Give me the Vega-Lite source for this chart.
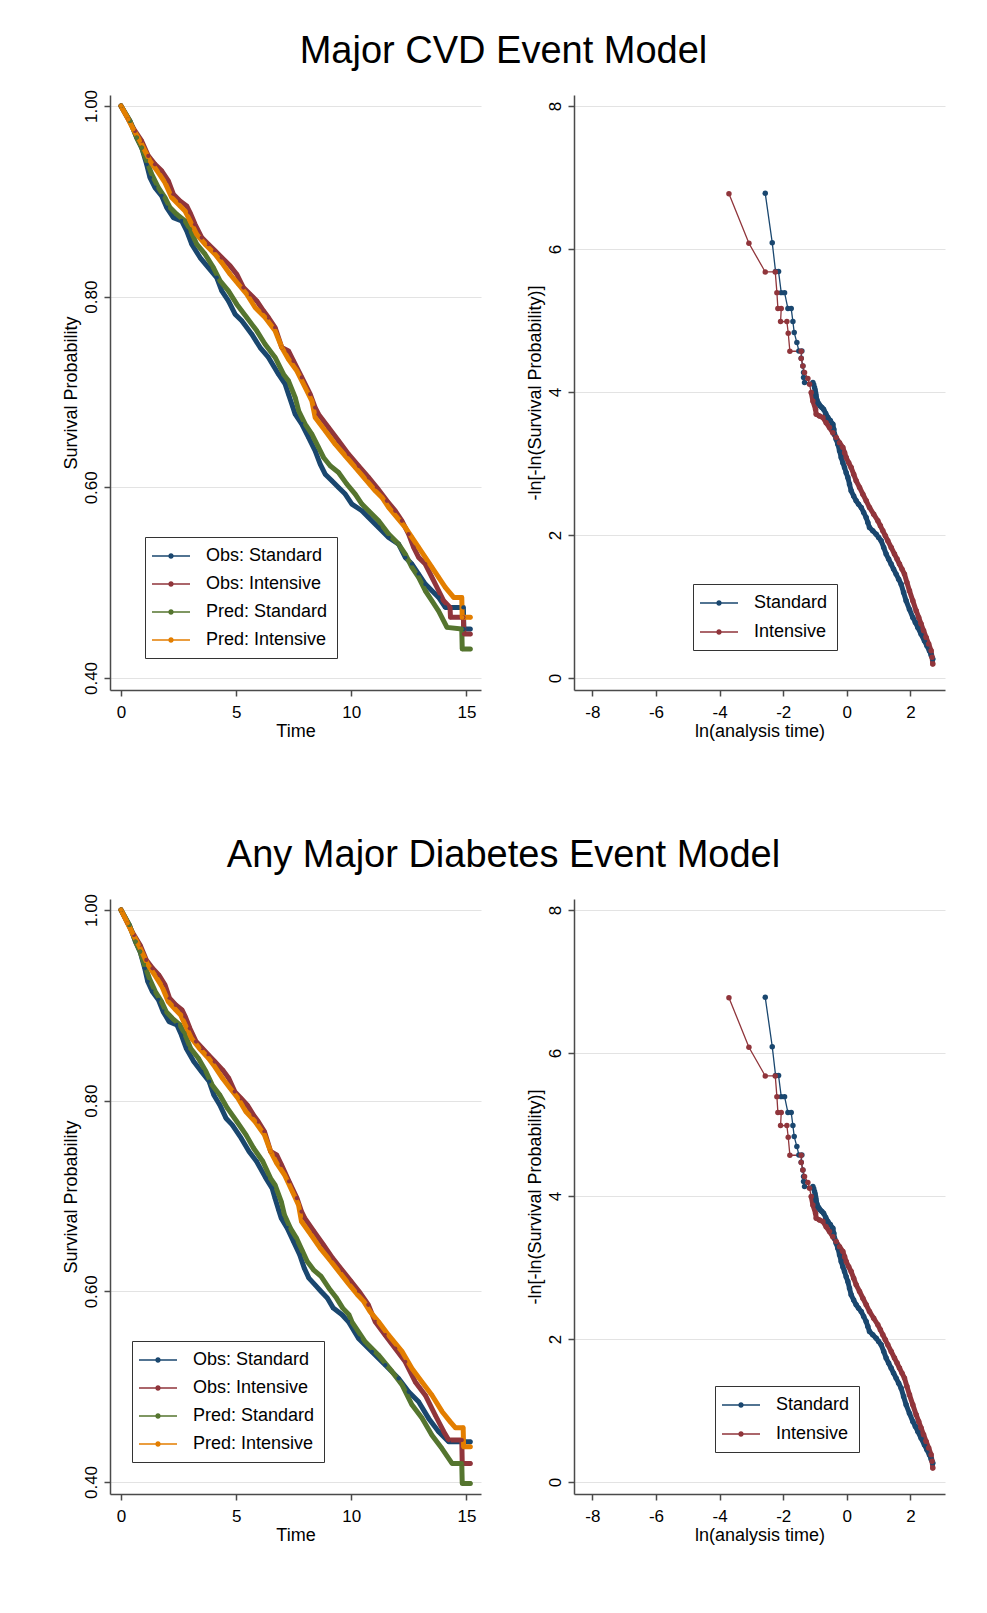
{
  "$schema": "https://vega.github.io/schema/vega-lite/v6.json",
  "background": "white",
  "padding": {"left": 62, "top": 33, "right": 5, "bottom": 5},
  "config": {
    "font": "Liberation Sans",
    "view": {"stroke": null},
    "axis": {
      "domainColor": "#4a4a4a", "domainWidth": 1.5, "tickColor": "#4a4a4a", "tickWidth": 1.5, "tickSize": 6,
      "labelColor": "black", "labelFontSize": 17, "labelFont": "Liberation Sans", "labelFlush": false,
      "titleColor": "black", "titleFontSize": 18, "titleFontWeight": "normal", "titleFont": "Liberation Sans",
      "gridColor": "#e3e3e3", "gridWidth": 1.2, "labelPadding": 8, "titlePadding": 2
    },
    "legend": {
      "labelFontSize": 18, "labelColor": "black", "labelFont": "Liberation Sans",
      "strokeColor": "#333333", "fillColor": "white", "padding": 9,
      "symbolSize": 400, "symbolStrokeWidth": 0, "symbolOpacity": 1,
      "symbolType": "M-1.9,-0.07L1.9,-0.07L1.9,0.07L-1.9,0.07Z M0.27,0A0.27,0.27 0 1,1 -0.27,0A0.27,0.27 0 1,1 0.27,0Z",
      "symbolOffset": 7, "labelOffset": 25, "rowPadding": 9
    },
    "title": {"fontSize": 38, "fontWeight": "normal", "color": "black", "font": "Liberation Sans", "anchor": "middle"}
  },
  "datasets": {
    "km_cvd": [
      {"series":"Obs: Standard","t":0,"s":1.0},{"series":"Obs: Standard","t":0.39,"s":0.9843},{"series":"Obs: Standard","t":0.68,"s":0.9668},{"series":"Obs: Standard","t":0.897,"s":0.9563},{"series":"Obs: Standard","t":1.114,"s":0.9388},{"series":"Obs: Standard","t":1.259,"s":0.9249},{"series":"Obs: Standard","t":1.477,"s":0.9144},{"series":"Obs: Standard","t":1.767,"s":0.9056},{"series":"Obs: Standard","t":1.984,"s":0.8934},{"series":"Obs: Standard","t":2.274,"s":0.8829},{"series":"Obs: Standard","t":2.636,"s":0.8794},{"series":"Obs: Standard","t":2.853,"s":0.869},{"series":"Obs: Standard","t":3.071,"s":0.855},{"series":"Obs: Standard","t":3.433,"s":0.841},{"series":"Obs: Standard","t":3.795,"s":0.8305},{"series":"Obs: Standard","t":4.158,"s":0.82},{"series":"Obs: Standard","t":4.375,"s":0.806},{"series":"Obs: Standard","t":4.665,"s":0.7955},{"series":"Obs: Standard","t":4.955,"s":0.7816},{"series":"Obs: Standard","t":5.245,"s":0.7746},{"series":"Obs: Standard","t":5.679,"s":0.7606},{"series":"Obs: Standard","t":6.042,"s":0.7466},{"series":"Obs: Standard","t":6.404,"s":0.7362},{"series":"Obs: Standard","t":6.839,"s":0.7187},{"series":"Obs: Standard","t":7.129,"s":0.7082},{"series":"Obs: Standard","t":7.274,"s":0.6977},{"series":"Obs: Standard","t":7.45,"s":0.685},{"series":"Obs: Standard","t":7.564,"s":0.6767},{"series":"Obs: Standard","t":7.853,"s":0.6662},{"series":"Obs: Standard","t":8.143,"s":0.6523},{"series":"Obs: Standard","t":8.433,"s":0.6383},{"series":"Obs: Standard","t":8.651,"s":0.6243},{"series":"Obs: Standard","t":8.868,"s":0.6138},{"series":"Obs: Standard","t":9.158,"s":0.6068},{"series":"Obs: Standard","t":9.448,"s":0.5998},{"series":"Obs: Standard","t":9.738,"s":0.5929},{"series":"Obs: Standard","t":10.027,"s":0.5824},{"series":"Obs: Standard","t":10.462,"s":0.5754},{"series":"Obs: Standard","t":10.752,"s":0.5684},{"series":"Obs: Standard","t":11.187,"s":0.5579},{"series":"Obs: Standard","t":11.622,"s":0.5474},{"series":"Obs: Standard","t":12.056,"s":0.5404},{"series":"Obs: Standard","t":12.346,"s":0.5265},{"series":"Obs: Standard","t":12.636,"s":0.5195},{"series":"Obs: Standard","t":12.926,"s":0.509},{"series":"Obs: Standard","t":13.216,"s":0.4985},{"series":"Obs: Standard","t":13.506,"s":0.4915},{"series":"Obs: Standard","t":13.796,"s":0.4845},{"series":"Obs: Standard","t":14.085,"s":0.474},{"series":"Obs: Standard","t":14.87,"s":0.474},{"series":"Obs: Standard","t":14.89,"s":0.4513},{"series":"Obs: Standard","t":15.17,"s":0.4513},
      {"series":"Obs: Intensive","t":0,"s":1.0},{"series":"Obs: Intensive","t":0.317,"s":0.986},{"series":"Obs: Intensive","t":0.607,"s":0.9738},{"series":"Obs: Intensive","t":0.897,"s":0.9633},{"series":"Obs: Intensive","t":1.187,"s":0.9476},{"series":"Obs: Intensive","t":1.477,"s":0.9388},{"series":"Obs: Intensive","t":1.767,"s":0.9319},{"series":"Obs: Intensive","t":2.056,"s":0.9214},{"series":"Obs: Intensive","t":2.274,"s":0.9074},{"series":"Obs: Intensive","t":2.564,"s":0.9004},{"series":"Obs: Intensive","t":2.853,"s":0.8951},{"series":"Obs: Intensive","t":2.998,"s":0.8882},{"series":"Obs: Intensive","t":3.216,"s":0.8759},{"series":"Obs: Intensive","t":3.506,"s":0.862},{"series":"Obs: Intensive","t":3.795,"s":0.855},{"series":"Obs: Intensive","t":4.085,"s":0.848},{"series":"Obs: Intensive","t":4.375,"s":0.841},{"series":"Obs: Intensive","t":4.738,"s":0.8323},{"series":"Obs: Intensive","t":5.027,"s":0.8235},{"series":"Obs: Intensive","t":5.317,"s":0.8095},{"series":"Obs: Intensive","t":5.607,"s":0.8025},{"series":"Obs: Intensive","t":5.897,"s":0.7955},{"series":"Obs: Intensive","t":6.187,"s":0.7851},{"series":"Obs: Intensive","t":6.404,"s":0.7781},{"series":"Obs: Intensive","t":6.694,"s":0.7676},{"series":"Obs: Intensive","t":6.984,"s":0.7466},{"series":"Obs: Intensive","t":7.274,"s":0.7431},{"series":"Obs: Intensive","t":7.491,"s":0.7326},{"series":"Obs: Intensive","t":7.853,"s":0.7152},{"series":"Obs: Intensive","t":8.216,"s":0.6977},{"series":"Obs: Intensive","t":8.433,"s":0.6837},{"series":"Obs: Intensive","t":8.578,"s":0.6767},{"series":"Obs: Intensive","t":9.013,"s":0.6628},{"series":"Obs: Intensive","t":9.448,"s":0.6488},{"series":"Obs: Intensive","t":9.882,"s":0.6348},{"series":"Obs: Intensive","t":10.317,"s":0.6226},{"series":"Obs: Intensive","t":10.752,"s":0.6103},{"series":"Obs: Intensive","t":11.114,"s":0.5998},{"series":"Obs: Intensive","t":11.549,"s":0.5859},{"series":"Obs: Intensive","t":11.911,"s":0.5754},{"series":"Obs: Intensive","t":12.201,"s":0.5649},{"series":"Obs: Intensive","t":12.491,"s":0.5509},{"series":"Obs: Intensive","t":12.709,"s":0.5369},{"series":"Obs: Intensive","t":12.926,"s":0.5265},{"series":"Obs: Intensive","t":13.216,"s":0.5195},{"series":"Obs: Intensive","t":13.506,"s":0.5055},{"series":"Obs: Intensive","t":13.796,"s":0.4915},{"series":"Obs: Intensive","t":14.013,"s":0.481},{"series":"Obs: Intensive","t":14.29,"s":0.474},{"series":"Obs: Intensive","t":14.31,"s":0.4636},{"series":"Obs: Intensive","t":14.87,"s":0.4636},{"series":"Obs: Intensive","t":14.89,"s":0.4461},{"series":"Obs: Intensive","t":15.17,"s":0.4461},
      {"series":"Pred: Standard","t":0,"s":1.0},{"series":"Pred: Standard","t":0.39,"s":0.9843},{"series":"Pred: Standard","t":0.68,"s":0.9668},{"series":"Pred: Standard","t":0.897,"s":0.9563},{"series":"Pred: Standard","t":1.114,"s":0.9423},{"series":"Pred: Standard","t":1.332,"s":0.9284},{"series":"Pred: Standard","t":1.622,"s":0.9144},{"series":"Pred: Standard","t":1.911,"s":0.9039},{"series":"Pred: Standard","t":2.129,"s":0.8934},{"series":"Pred: Standard","t":2.419,"s":0.8864},{"series":"Pred: Standard","t":2.781,"s":0.8794},{"series":"Pred: Standard","t":2.998,"s":0.8707},{"series":"Pred: Standard","t":3.288,"s":0.855},{"series":"Pred: Standard","t":3.651,"s":0.8445},{"series":"Pred: Standard","t":4.013,"s":0.8305},{"series":"Pred: Standard","t":4.303,"s":0.8165},{"series":"Pred: Standard","t":4.665,"s":0.806},{"series":"Pred: Standard","t":5.027,"s":0.7921},{"series":"Pred: Standard","t":5.462,"s":0.7781},{"series":"Pred: Standard","t":5.897,"s":0.7641},{"series":"Pred: Standard","t":6.259,"s":0.7501},{"series":"Pred: Standard","t":6.694,"s":0.7362},{"series":"Pred: Standard","t":7.056,"s":0.7187},{"series":"Pred: Standard","t":7.274,"s":0.7117},{"series":"Pred: Standard","t":7.564,"s":0.6942},{"series":"Pred: Standard","t":7.72,"s":0.68},{"series":"Pred: Standard","t":7.998,"s":0.6662},{"series":"Pred: Standard","t":8.288,"s":0.6558},{"series":"Pred: Standard","t":8.578,"s":0.6418},{"series":"Pred: Standard","t":8.796,"s":0.6313},{"series":"Pred: Standard","t":9.085,"s":0.6226},{"series":"Pred: Standard","t":9.448,"s":0.6156},{"series":"Pred: Standard","t":9.81,"s":0.6033},{"series":"Pred: Standard","t":10.172,"s":0.5929},{"series":"Pred: Standard","t":10.462,"s":0.5824},{"series":"Pred: Standard","t":10.752,"s":0.5754},{"series":"Pred: Standard","t":11.187,"s":0.5649},{"series":"Pred: Standard","t":11.622,"s":0.5509},{"series":"Pred: Standard","t":12.056,"s":0.5404},{"series":"Pred: Standard","t":12.346,"s":0.53},{"series":"Pred: Standard","t":12.636,"s":0.516},{"series":"Pred: Standard","t":12.926,"s":0.5055},{"series":"Pred: Standard","t":13.216,"s":0.4915},{"series":"Pred: Standard","t":13.506,"s":0.481},{"series":"Pred: Standard","t":13.796,"s":0.4702},{"series":"Pred: Standard","t":14.158,"s":0.4531},{"series":"Pred: Standard","t":14.8,"s":0.4513},{"series":"Pred: Standard","t":14.82,"s":0.4304},{"series":"Pred: Standard","t":15.17,"s":0.4304},
      {"series":"Pred: Intensive","t":0,"s":1.0},{"series":"Pred: Intensive","t":0.317,"s":0.986},{"series":"Pred: Intensive","t":0.535,"s":0.9755},{"series":"Pred: Intensive","t":0.825,"s":0.9633},{"series":"Pred: Intensive","t":1.042,"s":0.9528},{"series":"Pred: Intensive","t":1.259,"s":0.9423},{"series":"Pred: Intensive","t":1.622,"s":0.9301},{"series":"Pred: Intensive","t":1.911,"s":0.9196},{"series":"Pred: Intensive","t":2.201,"s":0.9039},{"series":"Pred: Intensive","t":2.564,"s":0.8951},{"series":"Pred: Intensive","t":2.781,"s":0.8899},{"series":"Pred: Intensive","t":2.998,"s":0.8794},{"series":"Pred: Intensive","t":3.288,"s":0.8654},{"series":"Pred: Intensive","t":3.651,"s":0.855},{"series":"Pred: Intensive","t":4.085,"s":0.8445},{"series":"Pred: Intensive","t":4.375,"s":0.8357},{"series":"Pred: Intensive","t":4.738,"s":0.8235},{"series":"Pred: Intensive","t":5.1,"s":0.813},{"series":"Pred: Intensive","t":5.462,"s":0.8025},{"series":"Pred: Intensive","t":5.825,"s":0.7886},{"series":"Pred: Intensive","t":6.259,"s":0.7781},{"series":"Pred: Intensive","t":6.694,"s":0.7641},{"series":"Pred: Intensive","t":6.984,"s":0.7466},{"series":"Pred: Intensive","t":7.274,"s":0.7344},{"series":"Pred: Intensive","t":7.636,"s":0.7222},{"series":"Pred: Intensive","t":7.998,"s":0.7047},{"series":"Pred: Intensive","t":8.288,"s":0.6907},{"series":"Pred: Intensive","t":8.433,"s":0.6732},{"series":"Pred: Intensive","t":8.868,"s":0.6593},{"series":"Pred: Intensive","t":9.303,"s":0.6453},{"series":"Pred: Intensive","t":9.738,"s":0.6331},{"series":"Pred: Intensive","t":10.172,"s":0.6208},{"series":"Pred: Intensive","t":10.607,"s":0.6086},{"series":"Pred: Intensive","t":11.042,"s":0.5964},{"series":"Pred: Intensive","t":11.332,"s":0.5894},{"series":"Pred: Intensive","t":11.622,"s":0.5789},{"series":"Pred: Intensive","t":11.984,"s":0.5684},{"series":"Pred: Intensive","t":12.346,"s":0.5579},{"series":"Pred: Intensive","t":12.636,"s":0.5474},{"series":"Pred: Intensive","t":12.926,"s":0.5369},{"series":"Pred: Intensive","t":13.216,"s":0.5265},{"series":"Pred: Intensive","t":13.506,"s":0.516},{"series":"Pred: Intensive","t":13.796,"s":0.5055},{"series":"Pred: Intensive","t":14.085,"s":0.495},{"series":"Pred: Intensive","t":14.448,"s":0.4845},{"series":"Pred: Intensive","t":14.8,"s":0.4845},{"series":"Pred: Intensive","t":14.82,"s":0.4636},{"series":"Pred: Intensive","t":15.17,"s":0.4636}
    ],
    "km_dm": [
      {"series":"Obs: Standard","t":0,"s":1.0},{"series":"Obs: Standard","t":0.36,"s":0.9843},{"series":"Obs: Standard","t":0.63,"s":0.9668},{"series":"Obs: Standard","t":0.83,"s":0.9563},{"series":"Obs: Standard","t":1.03,"s":0.9388},{"series":"Obs: Standard","t":1.16,"s":0.9249},{"series":"Obs: Standard","t":1.36,"s":0.9144},{"series":"Obs: Standard","t":1.63,"s":0.9056},{"series":"Obs: Standard","t":1.83,"s":0.8934},{"series":"Obs: Standard","t":2.09,"s":0.8829},{"series":"Obs: Standard","t":2.43,"s":0.8794},{"series":"Obs: Standard","t":2.62,"s":0.869},{"series":"Obs: Standard","t":2.83,"s":0.855},{"series":"Obs: Standard","t":3.16,"s":0.841},{"series":"Obs: Standard","t":3.49,"s":0.8305},{"series":"Obs: Standard","t":3.83,"s":0.82},{"series":"Obs: Standard","t":4.03,"s":0.806},{"series":"Obs: Standard","t":4.29,"s":0.7955},{"series":"Obs: Standard","t":4.56,"s":0.7816},{"series":"Obs: Standard","t":4.83,"s":0.7746},{"series":"Obs: Standard","t":5.22,"s":0.7606},{"series":"Obs: Standard","t":5.56,"s":0.7466},{"series":"Obs: Standard","t":5.89,"s":0.7362},{"series":"Obs: Standard","t":6.29,"s":0.7187},{"series":"Obs: Standard","t":6.56,"s":0.7082},{"series":"Obs: Standard","t":6.69,"s":0.6977},{"series":"Obs: Standard","t":6.85,"s":0.685},{"series":"Obs: Standard","t":6.96,"s":0.6767},{"series":"Obs: Standard","t":7.22,"s":0.6662},{"series":"Obs: Standard","t":7.49,"s":0.6523},{"series":"Obs: Standard","t":7.76,"s":0.6383},{"series":"Obs: Standard","t":7.96,"s":0.6243},{"series":"Obs: Standard","t":8.16,"s":0.6138},{"series":"Obs: Standard","t":8.43,"s":0.6068},{"series":"Obs: Standard","t":8.69,"s":0.5998},{"series":"Obs: Standard","t":8.96,"s":0.5929},{"series":"Obs: Standard","t":9.22,"s":0.5824},{"series":"Obs: Standard","t":9.6,"s":0.5754},{"series":"Obs: Standard","t":9.88,"s":0.568},{"series":"Obs: Standard","t":10.318,"s":0.5506},{"series":"Obs: Standard","t":10.897,"s":0.5366},{"series":"Obs: Standard","t":11.477,"s":0.5226},{"series":"Obs: Standard","t":12.057,"s":0.5086},{"series":"Obs: Standard","t":12.492,"s":0.4946},{"series":"Obs: Standard","t":12.926,"s":0.4842},{"series":"Obs: Standard","t":13.361,"s":0.4667},{"series":"Obs: Standard","t":13.796,"s":0.4527},{"series":"Obs: Standard","t":14.231,"s":0.4422},{"series":"Obs: Standard","t":15.17,"s":0.4422},
      {"series":"Obs: Intensive","t":0,"s":1.0},{"series":"Obs: Intensive","t":0.29,"s":0.986},{"series":"Obs: Intensive","t":0.56,"s":0.9738},{"series":"Obs: Intensive","t":0.83,"s":0.9633},{"series":"Obs: Intensive","t":1.1,"s":0.9476},{"series":"Obs: Intensive","t":1.37,"s":0.9388},{"series":"Obs: Intensive","t":1.64,"s":0.9319},{"series":"Obs: Intensive","t":1.91,"s":0.9214},{"series":"Obs: Intensive","t":2.11,"s":0.9074},{"series":"Obs: Intensive","t":2.38,"s":0.9004},{"series":"Obs: Intensive","t":2.65,"s":0.8951},{"series":"Obs: Intensive","t":2.79,"s":0.8882},{"series":"Obs: Intensive","t":2.99,"s":0.8759},{"series":"Obs: Intensive","t":3.26,"s":0.862},{"series":"Obs: Intensive","t":3.53,"s":0.855},{"series":"Obs: Intensive","t":3.8,"s":0.848},{"series":"Obs: Intensive","t":4.07,"s":0.841},{"series":"Obs: Intensive","t":4.41,"s":0.8323},{"series":"Obs: Intensive","t":4.68,"s":0.8235},{"series":"Obs: Intensive","t":4.94,"s":0.8095},{"series":"Obs: Intensive","t":5.21,"s":0.8025},{"series":"Obs: Intensive","t":5.48,"s":0.7955},{"series":"Obs: Intensive","t":5.75,"s":0.7851},{"series":"Obs: Intensive","t":5.96,"s":0.7781},{"series":"Obs: Intensive","t":6.23,"s":0.7676},{"series":"Obs: Intensive","t":6.5,"s":0.7466},{"series":"Obs: Intensive","t":6.76,"s":0.7431},{"series":"Obs: Intensive","t":6.97,"s":0.7326},{"series":"Obs: Intensive","t":7.3,"s":0.7152},{"series":"Obs: Intensive","t":7.64,"s":0.6977},{"series":"Obs: Intensive","t":7.84,"s":0.6837},{"series":"Obs: Intensive","t":7.98,"s":0.6767},{"series":"Obs: Intensive","t":8.38,"s":0.6628},{"series":"Obs: Intensive","t":8.79,"s":0.6488},{"series":"Obs: Intensive","t":9.19,"s":0.6348},{"series":"Obs: Intensive","t":9.59,"s":0.6226},{"series":"Obs: Intensive","t":10.0,"s":0.6103},{"series":"Obs: Intensive","t":10.34,"s":0.5998},{"series":"Obs: Intensive","t":10.74,"s":0.5859},{"series":"Obs: Intensive","t":11.042,"s":0.568},{"series":"Obs: Intensive","t":11.477,"s":0.554},{"series":"Obs: Intensive","t":11.912,"s":0.54},{"series":"Obs: Intensive","t":12.346,"s":0.526},{"series":"Obs: Intensive","t":12.781,"s":0.505},{"series":"Obs: Intensive","t":13.216,"s":0.491},{"series":"Obs: Intensive","t":13.651,"s":0.47},{"series":"Obs: Intensive","t":14.013,"s":0.453},{"series":"Obs: Intensive","t":14.231,"s":0.444},{"series":"Obs: Intensive","t":14.8,"s":0.444},{"series":"Obs: Intensive","t":14.82,"s":0.4195},{"series":"Obs: Intensive","t":15.17,"s":0.4195},
      {"series":"Pred: Standard","t":0,"s":1.0},{"series":"Pred: Standard","t":0.36,"s":0.9843},{"series":"Pred: Standard","t":0.63,"s":0.9668},{"series":"Pred: Standard","t":0.83,"s":0.9563},{"series":"Pred: Standard","t":1.02,"s":0.9423},{"series":"Pred: Standard","t":1.23,"s":0.9284},{"series":"Pred: Standard","t":1.49,"s":0.9144},{"series":"Pred: Standard","t":1.76,"s":0.9039},{"series":"Pred: Standard","t":1.96,"s":0.8934},{"series":"Pred: Standard","t":2.23,"s":0.8864},{"series":"Pred: Standard","t":2.56,"s":0.8794},{"series":"Pred: Standard","t":2.76,"s":0.8707},{"series":"Pred: Standard","t":3.02,"s":0.855},{"series":"Pred: Standard","t":3.36,"s":0.8445},{"series":"Pred: Standard","t":3.69,"s":0.8305},{"series":"Pred: Standard","t":3.96,"s":0.8165},{"series":"Pred: Standard","t":4.29,"s":0.806},{"series":"Pred: Standard","t":4.62,"s":0.7921},{"series":"Pred: Standard","t":5.03,"s":0.7781},{"series":"Pred: Standard","t":5.43,"s":0.7641},{"series":"Pred: Standard","t":5.76,"s":0.7501},{"series":"Pred: Standard","t":6.16,"s":0.7362},{"series":"Pred: Standard","t":6.49,"s":0.7187},{"series":"Pred: Standard","t":6.69,"s":0.7117},{"series":"Pred: Standard","t":6.96,"s":0.6942},{"series":"Pred: Standard","t":7.1,"s":0.68},{"series":"Pred: Standard","t":7.36,"s":0.6662},{"series":"Pred: Standard","t":7.62,"s":0.6558},{"series":"Pred: Standard","t":7.89,"s":0.6418},{"series":"Pred: Standard","t":8.09,"s":0.6313},{"series":"Pred: Standard","t":8.36,"s":0.6226},{"series":"Pred: Standard","t":8.69,"s":0.6156},{"series":"Pred: Standard","t":9.03,"s":0.6033},{"series":"Pred: Standard","t":9.36,"s":0.5929},{"series":"Pred: Standard","t":9.63,"s":0.5824},{"series":"Pred: Standard","t":9.9,"s":0.5754},{"series":"Pred: Standard","t":10.028,"s":0.568},{"series":"Pred: Standard","t":10.607,"s":0.547},{"series":"Pred: Standard","t":11.187,"s":0.533},{"series":"Pred: Standard","t":11.767,"s":0.516},{"series":"Pred: Standard","t":12.201,"s":0.502},{"series":"Pred: Standard","t":12.636,"s":0.481},{"series":"Pred: Standard","t":13.071,"s":0.467},{"series":"Pred: Standard","t":13.506,"s":0.449},{"series":"Pred: Standard","t":13.941,"s":0.435},{"series":"Pred: Standard","t":14.376,"s":0.4195},{"series":"Pred: Standard","t":14.8,"s":0.4195},{"series":"Pred: Standard","t":14.82,"s":0.3985},{"series":"Pred: Standard","t":15.17,"s":0.3985},
      {"series":"Pred: Intensive","t":0,"s":1.0},{"series":"Pred: Intensive","t":0.29,"s":0.986},{"series":"Pred: Intensive","t":0.5,"s":0.9755},{"series":"Pred: Intensive","t":0.77,"s":0.9633},{"series":"Pred: Intensive","t":0.97,"s":0.9528},{"series":"Pred: Intensive","t":1.17,"s":0.9423},{"series":"Pred: Intensive","t":1.51,"s":0.9301},{"series":"Pred: Intensive","t":1.78,"s":0.9196},{"series":"Pred: Intensive","t":2.05,"s":0.9039},{"series":"Pred: Intensive","t":2.38,"s":0.8951},{"series":"Pred: Intensive","t":2.59,"s":0.8899},{"series":"Pred: Intensive","t":2.79,"s":0.8794},{"series":"Pred: Intensive","t":3.06,"s":0.8654},{"series":"Pred: Intensive","t":3.4,"s":0.855},{"series":"Pred: Intensive","t":3.8,"s":0.8445},{"series":"Pred: Intensive","t":4.07,"s":0.8357},{"series":"Pred: Intensive","t":4.41,"s":0.8235},{"series":"Pred: Intensive","t":4.74,"s":0.813},{"series":"Pred: Intensive","t":5.08,"s":0.8025},{"series":"Pred: Intensive","t":5.42,"s":0.7886},{"series":"Pred: Intensive","t":5.82,"s":0.7781},{"series":"Pred: Intensive","t":6.23,"s":0.7641},{"series":"Pred: Intensive","t":6.5,"s":0.7466},{"series":"Pred: Intensive","t":6.76,"s":0.7344},{"series":"Pred: Intensive","t":7.1,"s":0.7222},{"series":"Pred: Intensive","t":7.44,"s":0.7047},{"series":"Pred: Intensive","t":7.71,"s":0.6907},{"series":"Pred: Intensive","t":7.84,"s":0.6732},{"series":"Pred: Intensive","t":8.25,"s":0.6593},{"series":"Pred: Intensive","t":8.65,"s":0.6453},{"series":"Pred: Intensive","t":9.06,"s":0.6331},{"series":"Pred: Intensive","t":9.46,"s":0.6208},{"series":"Pred: Intensive","t":9.86,"s":0.6086},{"series":"Pred: Intensive","t":10.27,"s":0.5964},{"series":"Pred: Intensive","t":10.54,"s":0.5894},{"series":"Pred: Intensive","t":10.81,"s":0.5789},{"series":"Pred: Intensive","t":11.187,"s":0.568},{"series":"Pred: Intensive","t":11.622,"s":0.554},{"series":"Pred: Intensive","t":12.201,"s":0.537},{"series":"Pred: Intensive","t":12.636,"s":0.519},{"series":"Pred: Intensive","t":13.071,"s":0.505},{"series":"Pred: Intensive","t":13.506,"s":0.491},{"series":"Pred: Intensive","t":13.941,"s":0.474},{"series":"Pred: Intensive","t":14.303,"s":0.463},{"series":"Pred: Intensive","t":14.52,"s":0.4569},{"series":"Pred: Intensive","t":14.86,"s":0.4569},{"series":"Pred: Intensive","t":14.88,"s":0.437},{"series":"Pred: Intensive","t":15.17,"s":0.437}
    ],
    "ll_cvd": [
      {"group":"Standard","lnt":-2.565,"lls":6.779},{"group":"Standard","lnt":-2.345,"lls":6.089},{"group":"Standard","lnt":-2.24,"lls":5.684},{"group":"Standard","lnt":-2.146,"lls":5.684},{"group":"Standard","lnt":-2.062,"lls":5.39},{"group":"Standard","lnt":-1.957,"lls":5.39},{"group":"Standard","lnt":-1.852,"lls":5.167},{"group":"Standard","lnt":-1.748,"lls":5.167},{"group":"Standard","lnt":-1.695,"lls":4.985},{"group":"Standard","lnt":-1.654,"lls":4.831},{"group":"Standard","lnt":-1.57,"lls":4.691},{"group":"Standard","lnt":-1.507,"lls":4.575},{"group":"Standard","lnt":-1.413,"lls":4.575},{"group":"Standard","lnt":-1.434,"lls":4.472},{"group":"Standard","lnt":-1.381,"lls":4.365},{"group":"Standard","lnt":-1.36,"lls":4.272},{"group":"Standard","lnt":-1.36,"lls":4.202},{"group":"Standard","lnt":-1.329,"lls":4.132},{"group":"Standard","lnt":-1.067,"lls":4.132},{"group":"Standard","lnt":-1.04,"lls":4.1},{"group":"Standard","lnt":-1.015,"lls":4.062},{"group":"Standard","lnt":-0.995,"lls":4.03},{"group":"Standard","lnt":-0.983,"lls":3.992},{"group":"Standard","lnt":-0.972,"lls":3.96},{"group":"Standard","lnt":-0.962,"lls":3.923},{"group":"Standard","lnt":-0.94,"lls":3.89},{"group":"Standard","lnt":-0.91,"lls":3.853},{"group":"Standard","lnt":-0.875,"lls":3.83},{"group":"Standard","lnt":-0.837,"lls":3.806},{"group":"Standard","lnt":-0.785,"lls":3.785},{"group":"Standard","lnt":-0.732,"lls":3.76},{"group":"Standard","lnt":-0.665,"lls":3.7},{"group":"Standard","lnt":-0.596,"lls":3.643},{"group":"Standard","lnt":-0.52,"lls":3.6},{"group":"Standard","lnt":-0.439,"lls":3.55},{"group":"Standard","lnt":-0.41,"lls":3.48},{"group":"Standard","lnt":-0.386,"lls":3.41},{"group":"Standard","lnt":-0.335,"lls":3.34},{"group":"Standard","lnt":-0.282,"lls":3.27},{"group":"Standard","lnt":-0.23,"lls":3.18},{"group":"Standard","lnt":-0.177,"lls":3.084},{"group":"Standard","lnt":-0.125,"lls":3.01},{"group":"Standard","lnt":-0.072,"lls":2.944},{"group":"Standard","lnt":-0.02,"lls":2.87},{"group":"Standard","lnt":0.032,"lls":2.804},{"group":"Standard","lnt":0.085,"lls":2.71},{"group":"Standard","lnt":0.137,"lls":2.618},{"group":"Standard","lnt":0.215,"lls":2.545},{"group":"Standard","lnt":0.294,"lls":2.478},{"group":"Standard","lnt":0.37,"lls":2.43},{"group":"Standard","lnt":0.452,"lls":2.385},{"group":"Standard","lnt":0.53,"lls":2.315},{"group":"Standard","lnt":0.608,"lls":2.245},{"group":"Standard","lnt":0.66,"lls":2.175},{"group":"Standard","lnt":0.713,"lls":2.105},{"group":"Standard","lnt":0.815,"lls":2.06},{"group":"Standard","lnt":0.923,"lls":2.012},{"group":"Standard","lnt":1.0,"lls":1.965},{"group":"Standard","lnt":1.08,"lls":1.919},{"group":"Standard","lnt":1.16,"lls":1.826},{"group":"Standard","lnt":1.237,"lls":1.733},{"group":"Standard","lnt":1.315,"lls":1.663},{"group":"Standard","lnt":1.394,"lls":1.593},{"group":"Standard","lnt":1.47,"lls":1.523},{"group":"Standard","lnt":1.551,"lls":1.453},{"group":"Standard","lnt":1.63,"lls":1.383},{"group":"Standard","lnt":1.708,"lls":1.313},{"group":"Standard","lnt":1.785,"lls":1.195},{"group":"Standard","lnt":1.865,"lls":1.08},{"group":"Standard","lnt":1.97,"lls":0.96},{"group":"Standard","lnt":2.075,"lls":0.847},{"group":"Standard","lnt":2.155,"lls":0.778},{"group":"Standard","lnt":2.232,"lls":0.708},{"group":"Standard","lnt":2.335,"lls":0.615},{"group":"Standard","lnt":2.441,"lls":0.521},{"group":"Standard","lnt":2.52,"lls":0.451},{"group":"Standard","lnt":2.598,"lls":0.381},{"group":"Standard","lnt":2.65,"lls":0.323},{"group":"Standard","lnt":2.703,"lls":0.265},
      {"group":"Intensive","lnt":-3.706,"lls":6.774},{"group":"Intensive","lnt":-3.078,"lls":6.08},{"group":"Intensive","lnt":-2.565,"lls":5.679},{"group":"Intensive","lnt":-2.25,"lls":5.679},{"group":"Intensive","lnt":-2.198,"lls":5.39},{"group":"Intensive","lnt":-2.167,"lls":5.167},{"group":"Intensive","lnt":-2.062,"lls":5.167},{"group":"Intensive","lnt":-2.083,"lls":4.985},{"group":"Intensive","lnt":-1.884,"lls":4.985},{"group":"Intensive","lnt":-1.842,"lls":4.822},{"group":"Intensive","lnt":-1.79,"lls":4.57},{"group":"Intensive","lnt":-1.434,"lls":4.57},{"group":"Intensive","lnt":-1.434,"lls":4.468},{"group":"Intensive","lnt":-1.381,"lls":4.365},{"group":"Intensive","lnt":-1.329,"lls":4.272},{"group":"Intensive","lnt":-1.224,"lls":4.188},{"group":"Intensive","lnt":-1.172,"lls":4.109},{"group":"Intensive","lnt":-1.119,"lls":3.992},{"group":"Intensive","lnt":-1.067,"lls":3.876},{"group":"Intensive","lnt":-0.983,"lls":3.76},{"group":"Intensive","lnt":-0.962,"lls":3.69},{"group":"Intensive","lnt":-0.86,"lls":3.665},{"group":"Intensive","lnt":-0.753,"lls":3.643},{"group":"Intensive","lnt":-0.65,"lls":3.57},{"group":"Intensive","lnt":-0.544,"lls":3.503},{"group":"Intensive","lnt":-0.44,"lls":3.43},{"group":"Intensive","lnt":-0.334,"lls":3.363},{"group":"Intensive","lnt":-0.23,"lls":3.29},{"group":"Intensive","lnt":-0.125,"lls":3.224},{"group":"Intensive","lnt":-0.07,"lls":3.15},{"group":"Intensive","lnt":-0.02,"lls":3.084},{"group":"Intensive","lnt":0.06,"lls":3.01},{"group":"Intensive","lnt":0.137,"lls":2.944},{"group":"Intensive","lnt":0.215,"lls":2.85},{"group":"Intensive","lnt":0.294,"lls":2.758},{"group":"Intensive","lnt":0.4,"lls":2.665},{"group":"Intensive","lnt":0.504,"lls":2.571},{"group":"Intensive","lnt":0.61,"lls":2.478},{"group":"Intensive","lnt":0.713,"lls":2.385},{"group":"Intensive","lnt":0.845,"lls":2.29},{"group":"Intensive","lnt":0.975,"lls":2.199},{"group":"Intensive","lnt":1.055,"lls":2.13},{"group":"Intensive","lnt":1.132,"lls":2.059},{"group":"Intensive","lnt":1.21,"lls":1.99},{"group":"Intensive","lnt":1.289,"lls":1.919},{"group":"Intensive","lnt":1.395,"lls":1.826},{"group":"Intensive","lnt":1.499,"lls":1.733},{"group":"Intensive","lnt":1.58,"lls":1.663},{"group":"Intensive","lnt":1.656,"lls":1.593},{"group":"Intensive","lnt":1.735,"lls":1.523},{"group":"Intensive","lnt":1.813,"lls":1.453},{"group":"Intensive","lnt":1.89,"lls":1.335},{"group":"Intensive","lnt":1.97,"lls":1.22},{"group":"Intensive","lnt":2.075,"lls":1.08},{"group":"Intensive","lnt":2.18,"lls":0.941},{"group":"Intensive","lnt":2.26,"lls":0.848},{"group":"Intensive","lnt":2.337,"lls":0.754},{"group":"Intensive","lnt":2.415,"lls":0.66},{"group":"Intensive","lnt":2.494,"lls":0.568},{"group":"Intensive","lnt":2.575,"lls":0.475},{"group":"Intensive","lnt":2.651,"lls":0.381},{"group":"Intensive","lnt":2.68,"lls":0.29},{"group":"Intensive","lnt":2.703,"lls":0.195}
    ]
  },
  "spacing": 97,
  "resolve": {"scale": {"fill": "independent", "stroke": "independent"}, "legend": {"fill": "independent", "stroke": "independent"}},
  "vconcat": [
    {
      "title": {"text": "Major CVD Event Model", "offset": 18},
      "spacing": 45,
      "resolve": {"scale": {"fill": "independent", "stroke": "independent"}, "legend": {"fill": "independent", "stroke": "independent"}},
      "hconcat": [
        {
          "width": 371, "height": 595,
          "data": {"name": "km_cvd"},
          "encoding": {
            "x": {"field": "t", "type": "quantitative", "scale": {"domain": [-0.478, 15.635], "nice": false, "zero": false}, "axis": {"values": [0, 5, 10, 15], "title": "Time", "grid": false}},
            "y": {"field": "s", "type": "quantitative", "scale": {"domain": [0.3874, 1.0115], "nice": false, "zero": false}, "axis": {"values": [0.4, 0.6, 0.8, 1.0], "format": ".2f", "title": "Survival Probability", "grid": true, "labelAngle": -90, "labelAlign": "center", "labelBaseline": "bottom", "labelPadding": 4}}
          },
          "layer": [
            {"mark": {"type": "line", "strokeWidth": 5, "strokeCap": "round", "strokeJoin": "round"},
             "encoding": {"stroke": {"field": "series", "type": "nominal", "scale": {"domain": ["Obs: Standard", "Obs: Intensive", "Pred: Standard", "Pred: Intensive"], "range": ["#1a476f", "#90353b", "#55752f", "#e37e00"]}, "legend": {"title": null, "orient": "none", "legendX": 35, "legendY": 442}}}},
            {"mark": {"type": "point", "filled": true, "size": 18, "opacity": 1},
             "encoding": {"fill": {"field": "series", "type": "nominal", "scale": {"domain": ["Obs: Standard", "Obs: Intensive", "Pred: Standard", "Pred: Intensive"], "range": ["#1a476f", "#90353b", "#55752f", "#e37e00"]}, "legend": {"title": null, "orient": "none", "legendX": 35, "legendY": 442}}}}
          ]
        },
        {
          "width": 371, "height": 595,
          "data": {"name": "ll_cvd"},
          "encoding": {
            "x": {"field": "lnt", "type": "quantitative", "scale": {"domain": [-8.578, 3.087], "nice": false, "zero": false}, "axis": {"values": [-8, -6, -4, -2, 0, 2], "labelExpr": "'' + datum.value", "title": "ln(analysis time)", "grid": false}},
            "y": {"field": "lls", "type": "quantitative", "scale": {"domain": [-0.1677, 8.154], "nice": false, "zero": false}, "axis": {"values": [0, 2, 4, 6, 8], "title": "-ln[-ln(Survival Probability)]", "grid": true, "labelAngle": -90, "labelAlign": "center", "labelBaseline": "bottom", "labelPadding": 4}}
          },
          "layer": [
            {"mark": {"type": "line", "strokeWidth": 1.3},
             "encoding": {"stroke": {"field": "group", "type": "nominal", "scale": {"domain": ["Standard", "Intensive"], "range": ["#1a476f", "#90353b"]}, "legend": {"title": null, "orient": "none", "legendX": 119, "legendY": 489, "rowPadding": 10}}, "order": {"field": "lls", "type": "quantitative", "sort": "descending"}}},
            {"transform": [{"filter": {"field": "lls", "lt": 4.0}}],
             "mark": {"type": "line", "strokeWidth": 5, "strokeCap": "round", "strokeJoin": "round"},
             "encoding": {"stroke": {"field": "group", "type": "nominal", "scale": {"domain": ["Standard", "Intensive"], "range": ["#1a476f", "#90353b"]}, "legend": {"title": null, "orient": "none", "legendX": 119, "legendY": 489, "rowPadding": 10}}, "order": {"field": "lls", "type": "quantitative", "sort": "descending"}}},
            {"mark": {"type": "point", "filled": true, "size": 30, "opacity": 1},
             "encoding": {"fill": {"field": "group", "type": "nominal", "scale": {"domain": ["Standard", "Intensive"], "range": ["#1a476f", "#90353b"]}, "legend": {"title": null, "orient": "none", "legendX": 119, "legendY": 489, "rowPadding": 10}}}}
          ]
        }
      ]
    },
    {
      "title": {"text": "Any Major Diabetes Event Model", "offset": 18},
      "spacing": 45,
      "resolve": {"scale": {"fill": "independent", "stroke": "independent"}, "legend": {"fill": "independent", "stroke": "independent"}},
      "hconcat": [
        {
          "width": 371, "height": 595,
          "data": {"name": "km_dm"},
          "encoding": {
            "x": {"field": "t", "type": "quantitative", "scale": {"domain": [-0.478, 15.635], "nice": false, "zero": false}, "axis": {"values": [0, 5, 10, 15], "title": "Time", "grid": false}},
            "y": {"field": "s", "type": "quantitative", "scale": {"domain": [0.3874, 1.0115], "nice": false, "zero": false}, "axis": {"values": [0.4, 0.6, 0.8, 1.0], "format": ".2f", "title": "Survival Probability", "grid": true, "labelAngle": -90, "labelAlign": "center", "labelBaseline": "bottom", "labelPadding": 4}}
          },
          "layer": [
            {"mark": {"type": "line", "strokeWidth": 5, "strokeCap": "round", "strokeJoin": "round"},
             "encoding": {"stroke": {"field": "series", "type": "nominal", "scale": {"domain": ["Obs: Standard", "Obs: Intensive", "Pred: Standard", "Pred: Intensive"], "range": ["#1a476f", "#90353b", "#55752f", "#e37e00"]}, "legend": {"title": null, "orient": "none", "legendX": 22, "legendY": 442}}}},
            {"mark": {"type": "point", "filled": true, "size": 18, "opacity": 1},
             "encoding": {"fill": {"field": "series", "type": "nominal", "scale": {"domain": ["Obs: Standard", "Obs: Intensive", "Pred: Standard", "Pred: Intensive"], "range": ["#1a476f", "#90353b", "#55752f", "#e37e00"]}, "legend": {"title": null, "orient": "none", "legendX": 22, "legendY": 442}}}}
          ]
        },
        {
          "width": 371, "height": 595,
          "data": {"name": "ll_cvd"},
          "encoding": {
            "x": {"field": "lnt", "type": "quantitative", "scale": {"domain": [-8.578, 3.087], "nice": false, "zero": false}, "axis": {"values": [-8, -6, -4, -2, 0, 2], "labelExpr": "'' + datum.value", "title": "ln(analysis time)", "grid": false}},
            "y": {"field": "lls", "type": "quantitative", "scale": {"domain": [-0.1677, 8.154], "nice": false, "zero": false}, "axis": {"values": [0, 2, 4, 6, 8], "title": "-ln[-ln(Survival Probability)]", "grid": true, "labelAngle": -90, "labelAlign": "center", "labelBaseline": "bottom", "labelPadding": 4}}
          },
          "layer": [
            {"mark": {"type": "line", "strokeWidth": 1.3},
             "encoding": {"stroke": {"field": "group", "type": "nominal", "scale": {"domain": ["Standard", "Intensive"], "range": ["#1a476f", "#90353b"]}, "legend": {"title": null, "orient": "none", "legendX": 141, "legendY": 487, "rowPadding": 10}}, "order": {"field": "lls", "type": "quantitative", "sort": "descending"}}},
            {"transform": [{"filter": {"field": "lls", "lt": 4.0}}],
             "mark": {"type": "line", "strokeWidth": 5, "strokeCap": "round", "strokeJoin": "round"},
             "encoding": {"stroke": {"field": "group", "type": "nominal", "scale": {"domain": ["Standard", "Intensive"], "range": ["#1a476f", "#90353b"]}, "legend": {"title": null, "orient": "none", "legendX": 141, "legendY": 487, "rowPadding": 10}}, "order": {"field": "lls", "type": "quantitative", "sort": "descending"}}},
            {"mark": {"type": "point", "filled": true, "size": 30, "opacity": 1},
             "encoding": {"fill": {"field": "group", "type": "nominal", "scale": {"domain": ["Standard", "Intensive"], "range": ["#1a476f", "#90353b"]}, "legend": {"title": null, "orient": "none", "legendX": 141, "legendY": 487, "rowPadding": 10}}}}
          ]
        }
      ]
    }
  ]
}
